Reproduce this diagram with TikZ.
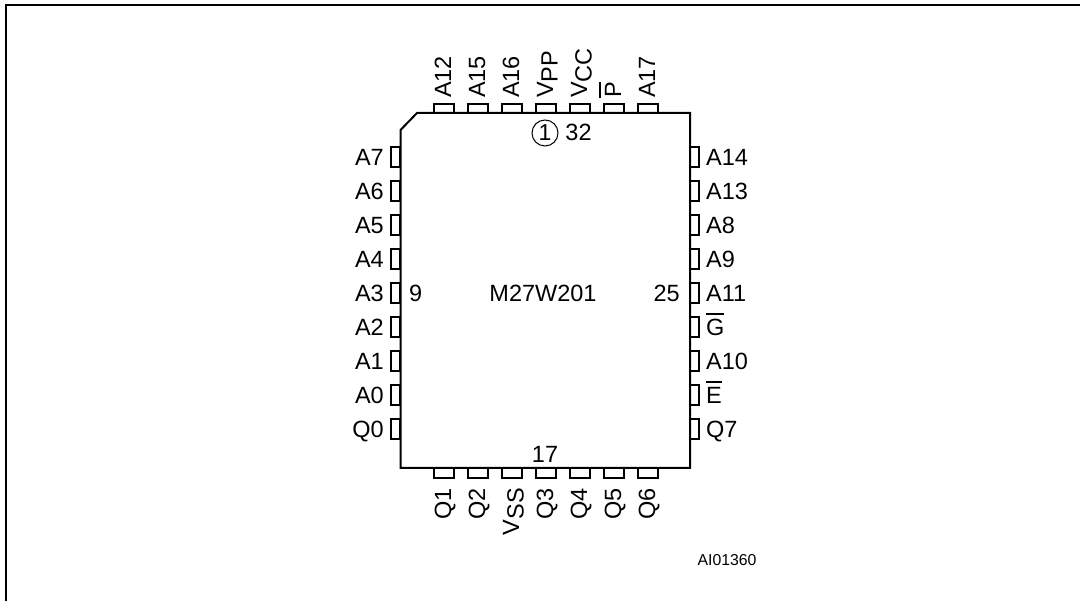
\documentclass[tikz,border=0pt]{standalone}
\usepackage{fontspec}
\setmainfont{Liberation Sans}
\newcommand{\ovl}[1]{\leavevmode\setbox0=\hbox{#1}\rlap{\smash{\raisebox{20.5pt}{\rule{\wd0}{1.3pt}}}}\box0 }
\newcommand{\lowr}[1]{\smash{\raisebox{-4.5pt}{#1}}}
\tikzset{x=1pt,y=-1pt,
 chip/.style={draw=black,line width=2pt,line join=miter},
 pinbox/.style={draw=black,line width=1.6pt},
 lbl/.style={inner sep=0pt,text depth=0pt,font=\fontsize{23.5}{24}\selectfont},
 vlbl/.style={lbl,rotate=90},
}
\begin{document}
\begin{tikzpicture}
\useasboundingbox (0,0) rectangle (1080,601);
\coordinate (ftr) at (1080,5.5);
\coordinate (ftl) at (6,5.5);
\coordinate (fbl) at (6,601);
\draw[line width=2pt] (fbl) -- (ftl) -- (ftr);
% pins
\foreach \x/\t in {444/A12,478/A15,512/A16,546/{V\lowr{PP}},580/{V\lowr{CC}},614/{\ovl{P}},648/A17}{
 \draw[pinbox] (\x-10,113) rectangle (\x+10,104);
 \node[vlbl,anchor=west] (t\x) at (\x-1,98) {\t};
}
\foreach \x/\t in {444/Q1,478/Q2,512/{V\lowr{SS}},546/Q3,580/Q4,614/Q5,648/Q6}{
 \draw[pinbox] (\x-10,468) rectangle (\x+10,478);
 \node[vlbl,anchor=east] (b\x) at (\x-1,488) {\t};
}
\foreach \y/\t in {157/A7,191/A6,225/A5,259/A4,293/A3,327/A2,361/A1,395/A0,429/Q0}{
 \draw[pinbox] (400,\y-10) rectangle (391,\y+10);
 \node[lbl,anchor=east] (l\y) at (384,\y) {\t};
}
\foreach \y/\t in {157/A14,191/A13,225/A8,259/A9,293/A11,327/{\ovl{G}},361/A10,395/{\ovl{E}},429/Q7}{
 \draw[pinbox] (690,\y-10) rectangle (699,\y+10);
 \node[lbl,anchor=west] (r\y) at (706,\y) {\t};
}
\draw[chip,fill=white] (417,113) -- (690,113) -- (690,468) -- (400.5,468) -- (400.5,130) -- cycle;
\node[lbl] (name) at (543,293) {M27W201};
\node[lbl,anchor=west] (n9) at (409,293) {9};
\node[lbl,anchor=east] (n25) at (680,293) {25};
\node[lbl] (n17) at (545,454) {17};
\node[lbl] (n32) at (578.5,132) {32};
\node[circle,draw,line width=1pt,inner sep=0pt,minimum size=26pt,font=\fontsize{23}{24}\selectfont] (n1) at (545,133) {1};
\node[inner sep=0pt,font=\fontsize{15.8}{16}\selectfont] (ai) at (727,560) {AI01360};
\end{tikzpicture}
\end{document}
